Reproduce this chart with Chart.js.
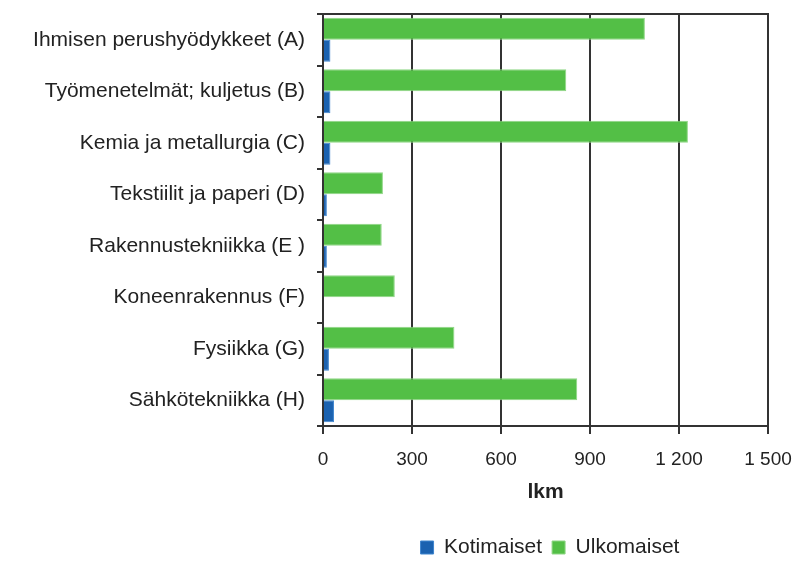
<!DOCTYPE html>
<html>
<head>
<meta charset="utf-8">
<script src="https://cdn.jsdelivr.net/npm/chart.js@4/dist/chart.umd.min.js"></script>
<style>
  html, body { margin: 0; padding: 0; background: #fff; }
  #wrap { width: 795px; height: 568px; }
</style>
</head>
<body>
<div id="wrap"><canvas id="chart" width="795" height="568"></canvas></div>
<script>
// categories and values (lkm)
const categories = [
    'Ihmisen perushyödykkeet (A)',
    'Työmenetelmät; kuljetus (B)',
    'Kemia ja metallurgia (C)',
    'Tekstiilit ja paperi (D)',
    'Rakennustekniikka (E )',
    'Koneenrakennus (F)',
    'Fysiikka (G)',
    'Sähkötekniikka (H)'
];
const ulkomaiset = [1085, 820, 1230, 202, 198, 242, 443, 857];
const kotimaiset = [25, 25, 25, 13, 13, 0, 20, 37];
const xTicks = [0, 300, 600, 900, 1200, 1500];

const FONT = "'Liberation Sans', Arial, sans-serif";
const GREEN = '#53BF46';
const BLUE = '#1B62B0';
const LINE = '#333333';

// draws the top and right frame of the plot area
const plotFrame = {
    id: 'plotFrame',
    afterDraw(chart) {
        const { ctx, chartArea: a } = chart;
        ctx.save();
        ctx.strokeStyle = LINE;
        ctx.lineWidth = 2;
        ctx.beginPath();
        ctx.moveTo(a.left, a.top);
        ctx.lineTo(a.right, a.top);
        ctx.lineTo(a.right, a.bottom);
        ctx.stroke();
        ctx.restore();
    }
};

// legend sits under the plot, not the whole canvas
const legendShift = {
    id: 'legendShift',
    afterLayout(chart) {
        const l = chart.legend;
        if (!l) return;
        l.left += 166;
        l.right += 166;
    }
};

new Chart(document.getElementById('chart'), {
    type: 'bar',
    data: {
        labels: categories,
        datasets: [
            {
                label: 'Ulkomaiset',
                data: ulkomaiset,
                backgroundColor: GREEN,
                borderColor: '#8fd685',
                borderWidth: 1
            },
            {
                label: 'Kotimaiset',
                data: kotimaiset,
                backgroundColor: BLUE,
                borderColor: '#3f86cf',
                borderWidth: 1
            }
        ]
    },
    options: {
        indexAxis: 'y',
        responsive: false,
        animation: false,
        categoryPercentage: 0.85,
        barPercentage: 1,
        layout: { padding: { top: 14, right: 27, left: 0, bottom: 0 } },
        plugins: {
            legend: {
                position: 'bottom',
                labels: {
                    color: '#222',
                    font: { family: FONT, size: 21 },
                    boxWidth: 13,
                    boxHeight: 13,
                    padding: 10,
                    sort: (a, b) => b.datasetIndex - a.datasetIndex
                }
            },
            tooltip: { enabled: false }
        },
        scales: {
            x: {
                min: 0,
                max: 1500,
                afterBuildTicks: (scale) => {
                    scale.ticks = xTicks.map(v => ({ value: v }));
                },
                afterFit: (scale) => { scale.paddingRight = 0; scale.paddingLeft = 0; },
                ticks: {
                    color: '#222',
                    font: { family: FONT, size: 19, lineHeight: 1 },
                    padding: 16,
                    callback: (v) => String(v).replace(/\B(?=(\d{3})+(?!\d))/g, ' ')
                },
                grid: { color: LINE, lineWidth: 2, tickLength: 8 },
                border: { color: LINE, width: 2 },
                title: {
                    display: true,
                    text: 'lkm',
                    color: '#222',
                    font: { family: FONT, size: 21, weight: 'bold', lineHeight: 1 },
                    padding: { top: -3, bottom: 24 }
                }
            },
            y: {
                afterFit: (scale) => {
                    scale.width = 323;
                    scale.paddingTop = 0;
                    scale.paddingBottom = 0;
                },
                ticks: {
                    color: '#222',
                    font: { family: FONT, size: 21 },
                    padding: 12
                },
                grid: { drawOnChartArea: false, color: LINE, lineWidth: 2, tickLength: 6, offset: true },
                border: { color: LINE, width: 2 }
            }
        }
    },
    plugins: [plotFrame, legendShift]
});
</script>
</body>
</html>
